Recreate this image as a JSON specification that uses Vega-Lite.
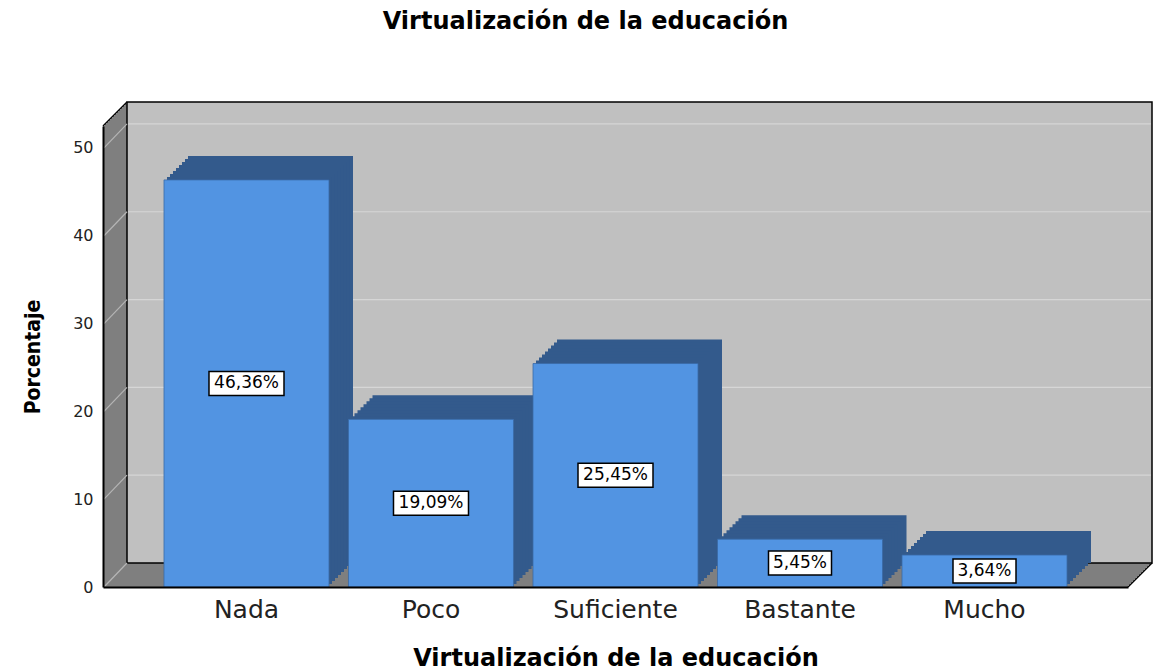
{
  "$schema": "https://vega.github.io/schema/vega-lite/v6.json",
  "width": 1025,
  "height": 461,
  "autosize": {"type": "none"},
  "padding": {"left": 103, "top": 126, "right": 29, "bottom": 83},
  "background": "white",
  "title": {"text": "Virtualización de la educación", "font": "DejaVu Sans", "fontSize": 24, "fontWeight": "bold", "color": "#000000", "anchor": "middle", "frame": "group", "dx": -30, "offset": 48, "baseline": "alphabetic"},
  "data": {"values": [
    {"cat": "Nada", "pct": 46.36, "label": "46,36%"},
    {"cat": "Poco", "pct": 19.09, "label": "19,09%"},
    {"cat": "Suficiente", "pct": 25.45, "label": "25,45%"},
    {"cat": "Bastante", "pct": 5.45, "label": "5,45%"},
    {"cat": "Mucho", "pct": 3.64, "label": "3,64%"}
  ]},
  "layer": [
    {"data": {"values": [{}]},
     "layer": [
      {"mark": {"type": "rect", "color": "#7f7f7f", "xOffset": 0, "x2Offset": 0, "yOffset": 0, "y2Offset": 0},
       "encoding": {"x": {"datum": 0, "type": "quantitative", "scale": {"domain": [0, 1], "nice": false, "zero": false}, "axis": null}, "x2": {"datum": 1},
                    "y": {"datum": 0, "type": "quantitative", "scale": {"domain": [0, 52.5], "nice": false, "zero": true}, "axis": null}, "y2": {"datum": 52.5}}},
      {"mark": {"type": "rect", "color": "#7f7f7f", "xOffset": 2, "x2Offset": 2, "yOffset": -2, "y2Offset": -2}, "encoding": {"x": {"datum": 0, "type": "quantitative", "axis": null}, "x2": {"datum": 1}, "y": {"datum": 0, "type": "quantitative", "axis": null}, "y2": {"datum": 52.5}}},
      {"mark": {"type": "rect", "color": "#7f7f7f", "xOffset": 4, "x2Offset": 4, "yOffset": -4, "y2Offset": -4}, "encoding": {"x": {"datum": 0, "type": "quantitative", "axis": null}, "x2": {"datum": 1}, "y": {"datum": 0, "type": "quantitative", "axis": null}, "y2": {"datum": 52.5}}},
      {"mark": {"type": "rect", "color": "#7f7f7f", "xOffset": 6, "x2Offset": 6, "yOffset": -6, "y2Offset": -6}, "encoding": {"x": {"datum": 0, "type": "quantitative", "axis": null}, "x2": {"datum": 1}, "y": {"datum": 0, "type": "quantitative", "axis": null}, "y2": {"datum": 52.5}}},
      {"mark": {"type": "rect", "color": "#7f7f7f", "xOffset": 8, "x2Offset": 8, "yOffset": -8, "y2Offset": -8}, "encoding": {"x": {"datum": 0, "type": "quantitative", "axis": null}, "x2": {"datum": 1}, "y": {"datum": 0, "type": "quantitative", "axis": null}, "y2": {"datum": 52.5}}},
      {"mark": {"type": "rect", "color": "#7f7f7f", "xOffset": 10, "x2Offset": 10, "yOffset": -10, "y2Offset": -10}, "encoding": {"x": {"datum": 0, "type": "quantitative", "axis": null}, "x2": {"datum": 1}, "y": {"datum": 0, "type": "quantitative", "axis": null}, "y2": {"datum": 52.5}}},
      {"mark": {"type": "rect", "color": "#7f7f7f", "xOffset": 12, "x2Offset": 12, "yOffset": -12, "y2Offset": -12}, "encoding": {"x": {"datum": 0, "type": "quantitative", "axis": null}, "x2": {"datum": 1}, "y": {"datum": 0, "type": "quantitative", "axis": null}, "y2": {"datum": 52.5}}},
      {"mark": {"type": "rect", "color": "#7f7f7f", "xOffset": 14, "x2Offset": 14, "yOffset": -14, "y2Offset": -14}, "encoding": {"x": {"datum": 0, "type": "quantitative", "axis": null}, "x2": {"datum": 1}, "y": {"datum": 0, "type": "quantitative", "axis": null}, "y2": {"datum": 52.5}}},
      {"mark": {"type": "rect", "color": "#7f7f7f", "xOffset": 16, "x2Offset": 16, "yOffset": -16, "y2Offset": -16}, "encoding": {"x": {"datum": 0, "type": "quantitative", "axis": null}, "x2": {"datum": 1}, "y": {"datum": 0, "type": "quantitative", "axis": null}, "y2": {"datum": 52.5}}},
      {"mark": {"type": "rect", "color": "#7f7f7f", "xOffset": 18, "x2Offset": 18, "yOffset": -18, "y2Offset": -18}, "encoding": {"x": {"datum": 0, "type": "quantitative", "axis": null}, "x2": {"datum": 1}, "y": {"datum": 0, "type": "quantitative", "axis": null}, "y2": {"datum": 52.5}}},
      {"mark": {"type": "rect", "color": "#7f7f7f", "xOffset": 20, "x2Offset": 20, "yOffset": -20, "y2Offset": -20}, "encoding": {"x": {"datum": 0, "type": "quantitative", "axis": null}, "x2": {"datum": 1}, "y": {"datum": 0, "type": "quantitative", "axis": null}, "y2": {"datum": 52.5}}},
      {"mark": {"type": "rect", "color": "#7f7f7f", "xOffset": 22, "x2Offset": 22, "yOffset": -22, "y2Offset": -22}, "encoding": {"x": {"datum": 0, "type": "quantitative", "axis": null}, "x2": {"datum": 1}, "y": {"datum": 0, "type": "quantitative", "axis": null}, "y2": {"datum": 52.5}}},
      {"mark": {"type": "rect", "fill": "#c0c0c0", "stroke": "#000000", "strokeWidth": 1.5, "xOffset": 24, "x2Offset": 24, "yOffset": -24, "y2Offset": -24}, "encoding": {"x": {"datum": 0, "type": "quantitative", "axis": null}, "x2": {"datum": 1}, "y": {"datum": 0, "type": "quantitative", "axis": null}, "y2": {"datum": 52.5}}},
      {"data": {"values": [{"v": 10}, {"v": 20}, {"v": 30}, {"v": 40}, {"v": 50}]},
       "mark": {"type": "rule", "color": "#d6d6d6", "strokeWidth": 1.2, "xOffset": 25, "x2Offset": 23, "yOffset": -24},
       "encoding": {"x": {"datum": 0, "type": "quantitative", "axis": null}, "x2": {"datum": 1}, "y": {"field": "v", "type": "quantitative", "axis": null}}},
      {"data": {"values": [{"v": 0}, {"v": 10}, {"v": 20}, {"v": 30}, {"v": 40}, {"v": 50}]},
       "mark": {"type": "rule", "color": "#b5b5b5", "strokeWidth": 1.2, "xOffset": 1, "x2Offset": 24, "yOffset": 0, "y2Offset": -24},
       "encoding": {"x": {"datum": 0, "type": "quantitative", "axis": null}, "x2": {"datum": 0}, "y": {"field": "v", "type": "quantitative", "axis": null}, "y2": {"field": "v"}}},
      {"mark": {"type": "rule", "color": "#000000", "strokeWidth": 1.5, "xOffset": 0, "x2Offset": 24, "yOffset": 0, "y2Offset": -24},
       "encoding": {"x": {"datum": 0, "type": "quantitative", "axis": null}, "x2": {"datum": 0}, "y": {"datum": 52.5, "type": "quantitative", "axis": null}, "y2": {"datum": 52.5}}},
      {"mark": {"type": "rule", "color": "#000000", "strokeWidth": 1.5, "xOffset": 0, "x2Offset": 24, "yOffset": 0, "y2Offset": -24},
       "encoding": {"x": {"datum": 1, "type": "quantitative", "axis": null}, "x2": {"datum": 1}, "y": {"datum": 0, "type": "quantitative", "axis": null}, "y2": {"datum": 0}}}
     ]},
    {"layer": [
      {"mark": {"type": "bar", "color": "#335a8c", "xOffset": 24, "x2Offset": 24, "yOffset": -24, "y2Offset": -24}, "encoding": {"x": {"field": "cat", "type": "nominal", "sort": null}, "y": {"field": "pct", "type": "quantitative"}}},
      {"mark": {"type": "bar", "color": "#335a8c", "xOffset": 21, "x2Offset": 21, "yOffset": -21, "y2Offset": -21}, "encoding": {"x": {"field": "cat", "type": "nominal", "sort": null}, "y": {"field": "pct", "type": "quantitative"}}},
      {"mark": {"type": "bar", "color": "#335a8c", "xOffset": 18, "x2Offset": 18, "yOffset": -18, "y2Offset": -18}, "encoding": {"x": {"field": "cat", "type": "nominal", "sort": null}, "y": {"field": "pct", "type": "quantitative"}}},
      {"mark": {"type": "bar", "color": "#335a8c", "xOffset": 15, "x2Offset": 15, "yOffset": -15, "y2Offset": -15}, "encoding": {"x": {"field": "cat", "type": "nominal", "sort": null}, "y": {"field": "pct", "type": "quantitative"}}},
      {"mark": {"type": "bar", "color": "#335a8c", "xOffset": 12, "x2Offset": 12, "yOffset": -12, "y2Offset": -12}, "encoding": {"x": {"field": "cat", "type": "nominal", "sort": null}, "y": {"field": "pct", "type": "quantitative"}}},
      {"mark": {"type": "bar", "color": "#335a8c", "xOffset": 9, "x2Offset": 9, "yOffset": -9, "y2Offset": -9}, "encoding": {"x": {"field": "cat", "type": "nominal", "sort": null}, "y": {"field": "pct", "type": "quantitative"}}},
      {"mark": {"type": "bar", "color": "#335a8c", "xOffset": 6, "x2Offset": 6, "yOffset": -6, "y2Offset": -6}, "encoding": {"x": {"field": "cat", "type": "nominal", "sort": null}, "y": {"field": "pct", "type": "quantitative"}}},
      {"mark": {"type": "bar", "color": "#335a8c", "xOffset": 3, "x2Offset": 3, "yOffset": -3, "y2Offset": -3}, "encoding": {"x": {"field": "cat", "type": "nominal", "sort": null}, "y": {"field": "pct", "type": "quantitative"}}},
      {"mark": {"type": "bar", "color": "#5294e2", "stroke": "#3a6aa6", "strokeWidth": 0.8}, "encoding": {
        "x": {"field": "cat", "type": "nominal", "sort": null, "scale": {"type": "band", "paddingInner": 0.1057, "paddingOuter": 0.3306},
              "axis": {"orient": "bottom", "title": "Virtualización de la educación", "titleFont": "DejaVu Sans", "titleFontSize": 24, "titleFontWeight": "bold", "titleColor": "#000000", "titlePadding": 24,
                       "labelFont": "DejaVu Sans", "labelFontSize": 25, "labelColor": "#222222", "labelPadding": 10, "labelAngle": 0, "labelAlign": "center", "labelBaseline": "top", "ticks": false,
                       "domainColor": "#000000", "domainWidth": 2, "zindex": 1}},
        "y": {"field": "pct", "type": "quantitative", "scale": {"domain": [0, 52.5], "nice": false, "zero": true},
              "axis": {"orient": "left", "title": "Porcentaje", "titleFont": "DejaVu Sans Condensed", "titleFontSize": 21, "titleFontWeight": "bold", "titleColor": "#000000", "titlePadding": 29,
                       "values": [0, 10, 20, 30, 40, 50], "labelFont": "DejaVu Sans", "labelFontSize": 16, "labelColor": "#222222", "labelPadding": 10, "ticks": false, "grid": false,
                       "domainColor": "#000000", "domainWidth": 2, "zindex": 1}}
      }}
    ]},
    {"layer": [
      {"mark": {"type": "point", "filled": true, "fill": "#ffffff", "stroke": "#000000", "strokeWidth": 1.5, "opacity": 1, "size": 5625},
       "encoding": {
         "x": {"field": "cat", "type": "nominal", "sort": null, "scale": {"type": "band", "paddingInner": 0.1057, "paddingOuter": 0.3306}, "axis": null},
         "y": {"field": "pct", "type": "quantitative", "scale": {"domain": [0, 105], "nice": false, "zero": true}, "axis": null},
         "shape": {"condition": {"test": "datum.pct < 10", "value": "M-0.84,-0.32H0.84V0.32H-0.84Z"}, "value": "M-1,-0.32H1V0.32H-1Z"}
       }},
      {"mark": {"type": "text", "font": "DejaVu Sans", "fontSize": 17, "color": "#000000", "align": "center", "baseline": "middle"},
       "encoding": {
         "x": {"field": "cat", "type": "nominal", "sort": null, "axis": null},
         "y": {"field": "pct", "type": "quantitative", "axis": null},
         "text": {"field": "label", "type": "nominal"}
       }}
    ]}
  ],
  "resolve": {"scale": {"x": "independent", "y": "independent"}},
  "config": {"view": {"stroke": null}}
}
